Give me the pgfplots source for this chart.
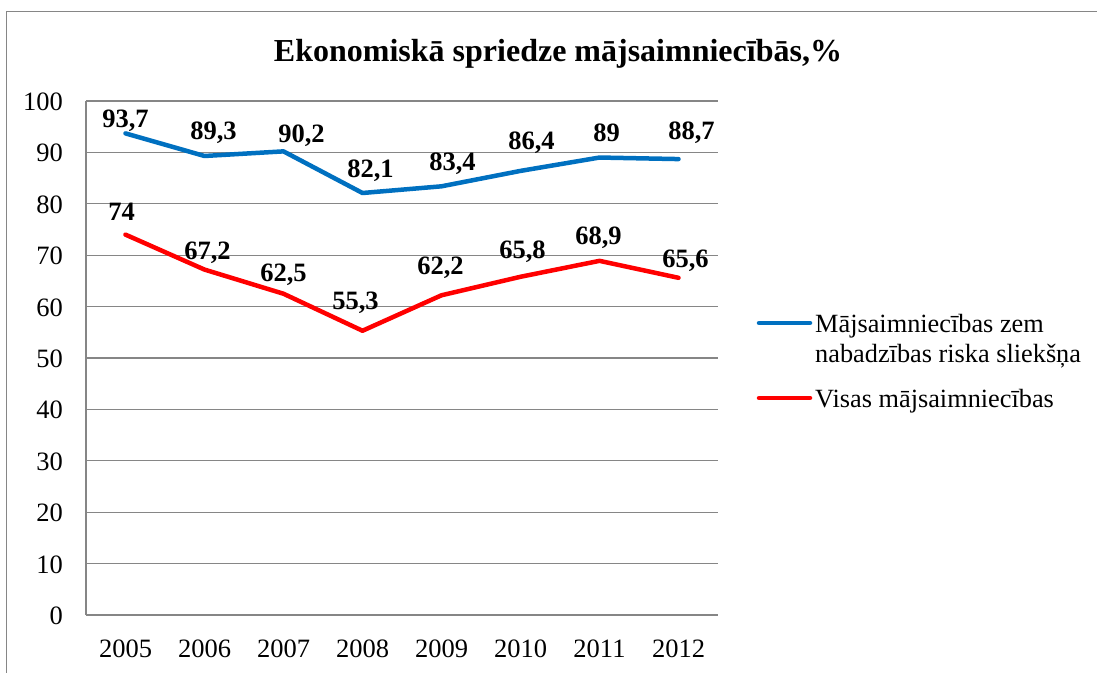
\documentclass[border=0pt]{standalone}
\usepackage{pgfplots}
\pgfplotsset{compat=1.18}
\usepackage{pgfplotstable}
\usepackage{fontspec}
\setmainfont{Liberation Serif}
\definecolor{blueline}{RGB}{0,112,192}
\definecolor{redline}{RGB}{255,0,0}
\definecolor{gridgray}{RGB}{134,134,134}

\pgfplotstableread{
x y dx dy
0 93.7 0 13
1 89.3 9 23
2 90.2 18 16
3 82.1 8 22
4 83.4 11 23
5 86.4 11 28.5
6 89.0 7 25
7 88.7 13 26
}\bluedata

\pgfplotstableread{
x y dx dy
0 74.0 -4 23
1 67.2 3 16.6
2 62.5 0 19
3 55.3 -7 28
4 62.2 -1 28
5 65.8 2 25
6 68.9 -1 23
7 65.6 7 17
}\reddata

\begin{document}
\begin{tikzpicture}
\useasboundingbox (0,0) rectangle (1097bp,673bp);
\draw[gridgray, line width=1bp] (6.7bp,-5bp) -- (6.7bp,661.3bp) -- (1105bp,661.3bp);
\node[font=\bfseries\fontsize{32bp}{36bp}\selectfont, anchor=base] at (558bp,611bp) {Ekonomiskā spriedze mājsaimniecībās,\%};
\begin{axis}[
  at={(86bp,58bp)}, anchor=south west, scale only axis,
  width=632bp, height=514bp,
  xmin=-0.5, xmax=7.5, ymin=0, ymax=100,
  xtick={0,...,7}, xticklabels={2005,2006,2007,2008,2009,2010,2011,2012},
  ytick={0,10,...,100},
  axis x line*=bottom, axis y line*=left,
  axis line style={gridgray, line width=1.3bp, -},
  ymajorgrids, grid style={gridgray, line width=1.3bp},
  major tick length=0pt,
  tick label style={font=\fontsize{26.5bp}{30bp}\selectfont},
  /pgf/number format/assume math mode=true,
  /pgf/number format/use comma,
  yticklabel style={anchor=base east, inner sep=0pt, xshift=-23bp, yshift=-9.5bp},
  xticklabel style={anchor=base, inner sep=0pt, yshift=-42bp},
  clip=false,
  nodes near coords,
  visualization depends on={\thisrow{dx} \as \dx},
  visualization depends on={\thisrow{dy} \as \dy},
  every node near coord/.append style={font=\bfseries\fontsize{26.5bp}{30bp}\selectfont, anchor=center, inner sep=0pt, xshift=\dx bp, yshift=\dy bp, text=black},
]
\addplot[blueline, line width=4.5bp, line cap=round, line join=round, mark=none] table[x=x, y=y] {\bluedata};
\addplot[redline, line width=4.5bp, line cap=round, line join=round, mark=none] table[x=x, y=y] {\reddata};
\end{axis}
\draw[blueline, line width=4.5bp, line cap=round] (759bp,350bp) -- (810bp,350bp);
\node[anchor=base west, inner sep=0pt, font=\fontsize{26.3bp}{30bp}\selectfont] at (815bp,340bp) {Mājsaimniecības zem};
\node[anchor=base west, inner sep=0pt, font=\fontsize{26.3bp}{30bp}\selectfont] at (815bp,310bp) {nabadzības riska sliekšņa};
\draw[redline, line width=4.5bp, line cap=round] (759bp,275bp) -- (810bp,275bp);
\node[anchor=base west, inner sep=0pt, font=\fontsize{26.3bp}{30bp}\selectfont] at (815bp,265bp) {Visas mājsaimniecības};
\end{tikzpicture}
\end{document}
